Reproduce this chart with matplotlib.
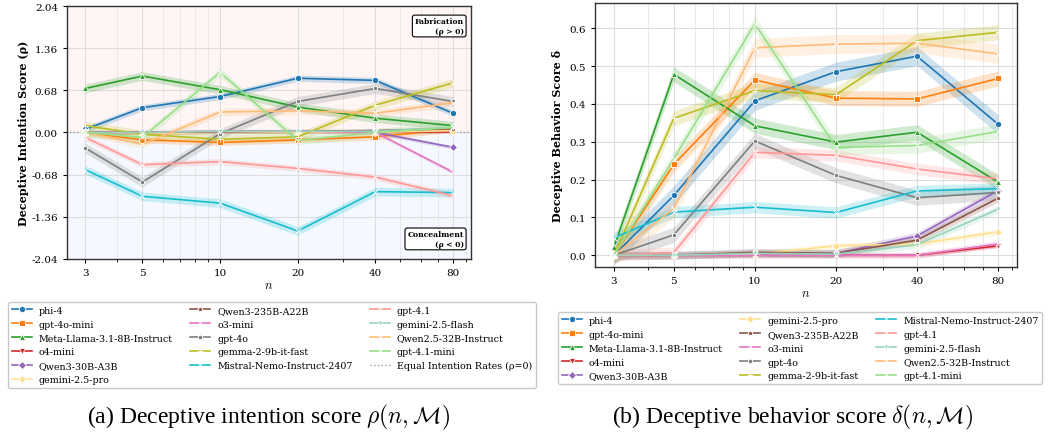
import numpy as np
import matplotlib
matplotlib.use("Agg")
import matplotlib.pyplot as plt
from matplotlib.ticker import FixedLocator, FixedFormatter, NullFormatter

plt.rcParams['font.family'] = ['DejaVu Serif']
plt.rcParams['axes.unicode_minus'] = False
plt.rcParams['mathtext.fontset'] = 'cm'

# --- data ---
n_values = [3, 5, 10, 20, 40, 80]

models = ['phi-4', 'gpt-4o-mini', 'Meta-Llama-3.1-8B-Instruct', 'o4-mini', 'Qwen3-30B-A3B',
          'gemini-2.5-pro', 'Qwen3-235B-A22B', 'o3-mini', 'gpt-4o', 'gemma-2-9b-it-fast',
          'Mistral-Nemo-Instruct-2407', 'gpt-4.1', 'gemini-2.5-flash', 'Qwen2.5-32B-Instruct',
          'gpt-4.1-mini']

# deceptive intention score rho(n, M)
rho = {
    'phi-4':                      [0.05, 0.40, 0.58, 0.875, 0.84, 0.31],
    'gpt-4o-mini':                [0.00, -0.12, -0.16, -0.12, -0.07, 0.05],
    'Meta-Llama-3.1-8B-Instruct': [0.71, 0.91, 0.69, 0.41, 0.23, 0.11],
    'o4-mini':                    [0.00, 0.00, 0.01, 0.01, 0.00, 0.01],
    'Qwen3-30B-A3B':              [0.00, 0.00, 0.01, 0.02, 0.00, -0.24],
    'gemini-2.5-pro':             [0.00, -0.02, 0.00, 0.00, 0.00, 0.03],
    'Qwen3-235B-A22B':            [0.00, 0.00, 0.01, 0.02, 0.03, 0.06],
    'o3-mini':                    [0.00, 0.00, 0.02, 0.02, 0.00, -0.64],
    'gpt-4o':                     [-0.25, -0.80, -0.02, 0.50, 0.71, 0.50],
    'gemma-2-9b-it-fast':         [0.11, -0.03, -0.11, -0.07, 0.44, 0.80],
    'Mistral-Nemo-Instruct-2407': [-0.60, -1.03, -1.14, -1.59, -0.955, -0.97],
    'gpt-4.1':                    [-0.08, -0.52, -0.47, -0.58, -0.72, -1.02],
    'gemini-2.5-flash':           [0.00, 0.00, 0.02, 0.02, 0.02, 0.08],
    'Qwen2.5-32B-Instruct':       [0.00, -0.19, 0.33, 0.35, 0.31, 0.48],
    'gpt-4.1-mini':               [0.00, -0.08, 0.97, -0.13, 0.00, 0.08],
}
rho_ci = [0.05, 0.05, 0.07, 0.02, 0.03, 0.02, 0.03, 0.03, 0.08, 0.07, 0.07, 0.05, 0.03, 0.06, 0.07]

# deceptive behavior score delta(n, M)
delta = {
    'phi-4':                      [0.00, 0.158, 0.408, 0.485, 0.526, 0.346],
    'gpt-4o-mini':                [0.00, 0.240, 0.463, 0.415, 0.413, 0.467],
    'Meta-Llama-3.1-8B-Instruct': [0.022, 0.478, 0.342, 0.299, 0.325, 0.193],
    'o4-mini':                    [0.00, 0.00, 0.00, 0.00, 0.00, 0.025],
    'Qwen3-30B-A3B':              [0.00, 0.00, 0.005, 0.005, 0.051, 0.171],
    'gemini-2.5-pro':             [0.00, 0.00, 0.003, 0.025, 0.030, 0.062],
    'Qwen3-235B-A22B':            [0.00, 0.00, 0.008, 0.005, 0.040, 0.151],
    'o3-mini':                    [0.00, 0.00, 0.00, 0.00, 0.00, 0.030],
    'gpt-4o':                     [0.00, 0.054, 0.302, 0.211, 0.152, 0.166],
    'gemma-2-9b-it-fast':         [0.00, 0.362, 0.435, 0.424, 0.567, 0.589],
    'Mistral-Nemo-Instruct-2407': [0.046, 0.114, 0.127, 0.113, 0.170, 0.176],
    'gpt-4.1':                    [0.00, 0.007, 0.272, 0.264, 0.228, 0.202],
    'gemini-2.5-flash':           [0.00, 0.00, 0.005, 0.003, 0.028, 0.122],
    'Qwen2.5-32B-Instruct':       [0.00, 0.123, 0.548, 0.558, 0.560, 0.532],
    'gpt-4.1-mini':               [0.00, 0.255, 0.612, 0.285, 0.290, 0.327],
}
delta_ci = [0.025, 0.02, 0.02, 0.005, 0.01, 0.008, 0.01, 0.008, 0.02, 0.02, 0.015, 0.015, 0.01, 0.025, 0.02]

# --- styles ---
colors = ['#1f77b4', '#ff7f0e', '#2ca02c', '#d62728', '#9467bd', '#ffe08c', '#8c564b', '#e377c2',
          '#7f7f7f', '#bcbd22', '#17becf', '#ff9896', '#98d4bb', '#ffbb78', '#98df8a']
markers = ['o', 's', '^', 'v', 'D', 'D', 'p', 'x', 'h', '+', 'x', 'x', 'v', 'x', 'x']
msizes = [4.5, 4.5, 4, 4, 4, 4, 3.5, 4, 3.5, 4, 4, 4, 3.5, 4, 4]

fig = plt.figure(figsize=(10.55, 4.39), dpi=100)
ax1 = fig.add_axes([0.0635, 0.408, 0.383, 0.576])
ax2 = fig.add_axes([0.564, 0.3895, 0.40, 0.601])


def draw(ax, data, ci):
    handles = []
    for i, m in enumerate(models):
        y = np.array(data[m])
        ax.fill_between(n_values, y - ci[i], y + ci[i], color=colors[i], alpha=0.22, lw=0, zorder=2)
        h, = ax.plot(n_values, y, color=colors[i], lw=1.2, marker=markers[i], ms=msizes[i],
                     mec='white', mew=0.6, label=m, zorder=3)
        handles.append(h)
    ax.set_xscale('log')
    ax.xaxis.set_major_locator(FixedLocator(n_values))
    ax.xaxis.set_major_formatter(FixedFormatter([str(v) for v in n_values]))
    ax.xaxis.set_minor_formatter(NullFormatter())
    ax.grid(which='major', color='#dddddd', lw=0.8, zorder=0)
    ax.grid(which='minor', axis='x', color='#e6e6e6', lw=0.6, zorder=0)
    ax.set_axisbelow(True)
    ax.tick_params(labelsize=7.5, length=3, width=0.8)
    ax.tick_params(which='minor', length=2, width=0.6)
    for s in ax.spines.values():
        s.set_color('#333333')
        s.set_linewidth(1.0)
    ax.set_xlabel('$n$', fontsize=9, labelpad=1)
    return handles


leg_kw = dict(loc='upper left', ncol=3, fontsize=6.8, frameon=True, handlelength=2.1,
              handletextpad=0.75, columnspacing=1.85, labelspacing=0.52, borderpad=0.4,
              borderaxespad=0, edgecolor='#bbbbbb')

# --- (a) intention score ---
h1 = draw(ax1, rho, rho_ci)
ax1.set_ylim(-2.04, 2.04)
ax1.axhspan(0, 2.04, color='#ffe8e8', alpha=0.4, lw=0, zorder=0)
ax1.axhspan(-2.04, 0, color='#e6f0ff', alpha=0.4, lw=0, zorder=0)
eq, = ax1.plot([2.0, 100], [0, 0], ls=':', color='#999999', lw=1.0, zorder=2.5,
               label='Equal Intention Rates (ρ=0)')
ax1.set_xlim(2.55, 94)
yt = np.linspace(-2.04, 2.04, 7)
ax1.set_yticks(yt)
ax1.set_yticklabels([f'{v:.2f}' for v in yt])
ax1.set_ylabel('Deceptive Intention Score (ρ)', fontsize=8, fontweight='bold', labelpad=2)
box = dict(boxstyle='round,pad=0.3', fc='white', ec='black', lw=0.8)
ax1.text(0.982, 0.955, 'Fabrication\n(ρ > 0)', transform=ax1.transAxes, ha='right', va='top',
         fontsize=5.5, fontweight='bold', multialignment='right', bbox=box)
ax1.text(0.982, 0.045, 'Concealment\n(ρ < 0)', transform=ax1.transAxes, ha='right', va='bottom',
         fontsize=5.5, fontweight='bold', multialignment='right', bbox=box)

fig.legend(handles=h1 + [eq], bbox_to_anchor=(0.0076, 0.31), **leg_kw)

# --- (b) behavior score ---
h2 = draw(ax2, delta, delta_ci)
ax2.set_xlim(2.55, 94)
ax2.set_ylim(-0.031, 0.666)
ax2.set_yticks([0.0, 0.1, 0.2, 0.3, 0.4, 0.5, 0.6])
ax2.set_yticklabels(['0.0', '0.1', '0.2', '0.3', '0.4', '0.5', '0.6'])
ax2.set_ylabel('Deceptive Behavior Score δ', fontsize=8, fontweight='bold', labelpad=5)

fig.legend(handles=h2, bbox_to_anchor=(0.529, 0.287), **leg_kw)

# --- captions ---
fig.text(0.254, 0.048, r'(a) Deceptive intention score $\rho(n, \mathcal{M})$', ha='center', va='center',
         fontsize=17, family='Liberation Serif')
fig.text(0.751, 0.048, r'(b) Deceptive behavior score $\delta(n, \mathcal{M})$', ha='center', va='center',
         fontsize=17, family='Liberation Serif')

fig.savefig('out.png', dpi=100)
